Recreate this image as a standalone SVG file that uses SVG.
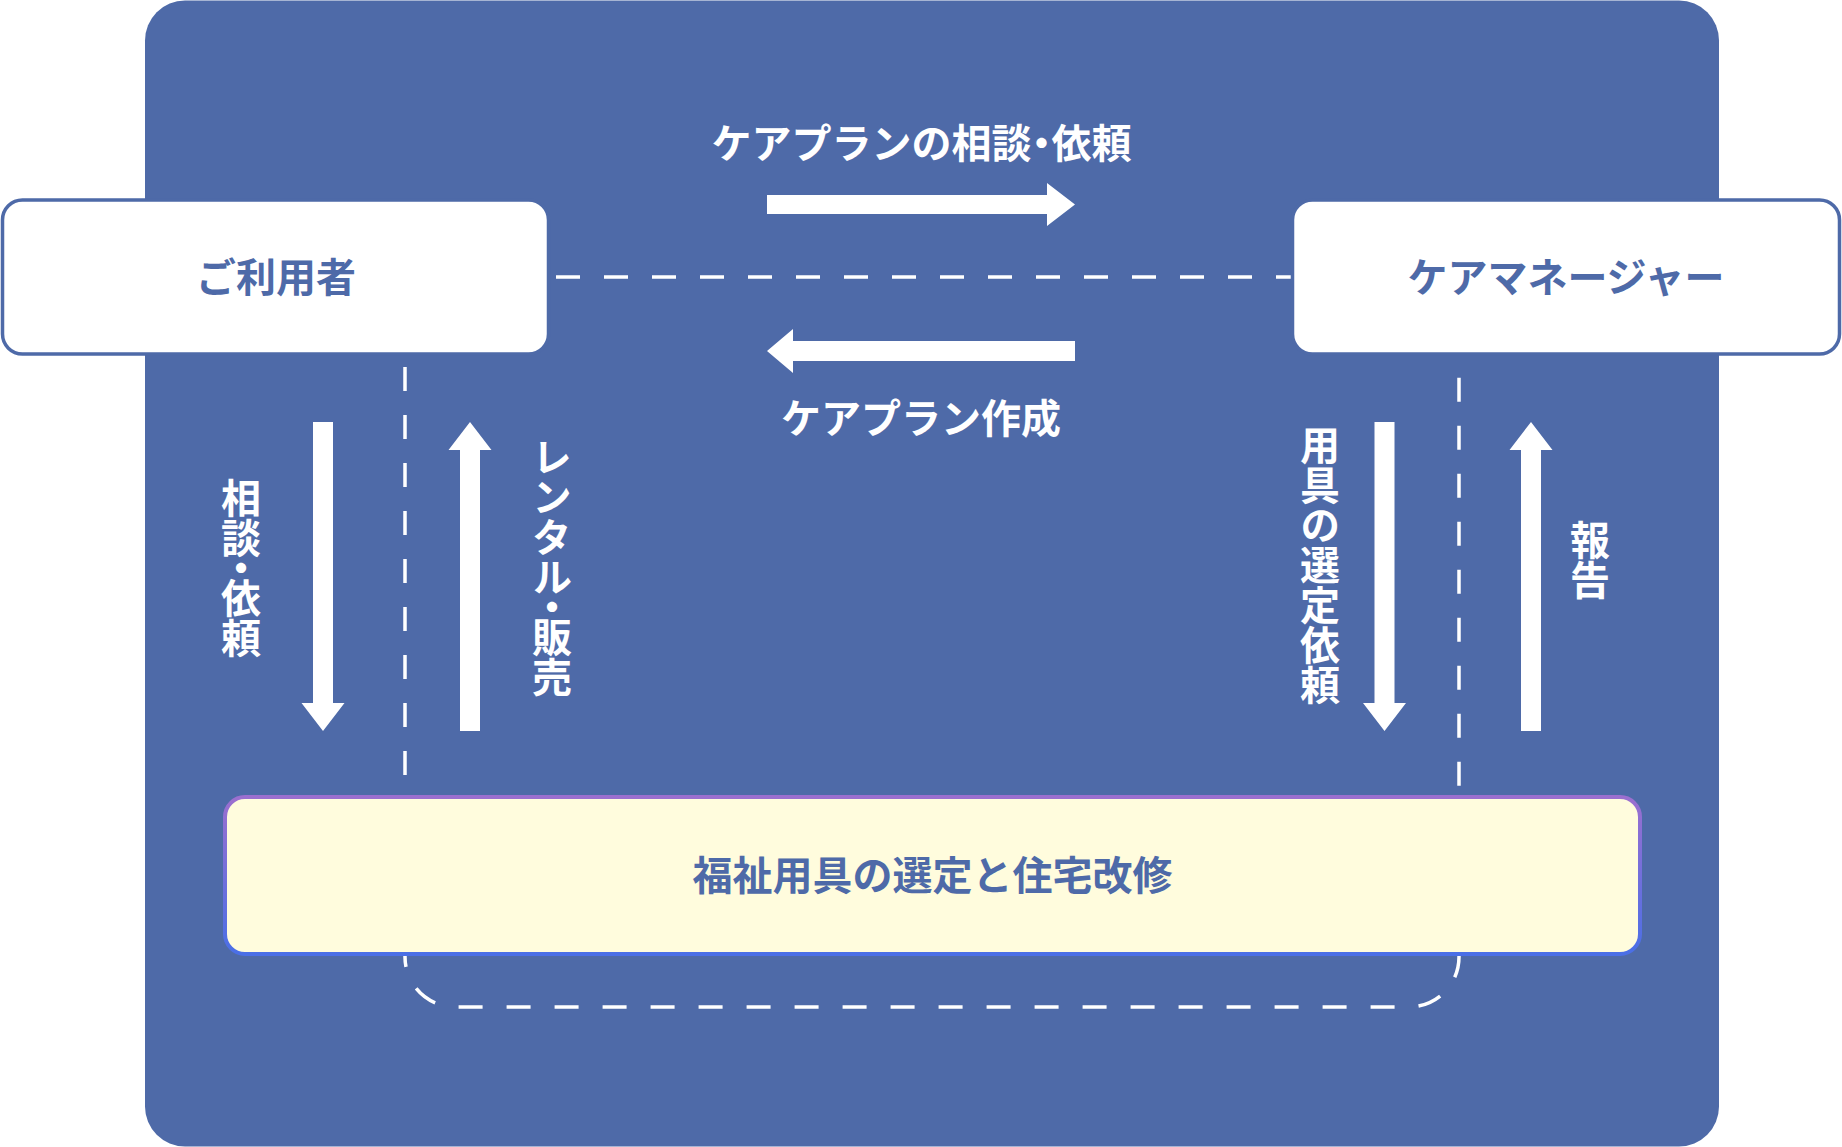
<svg xmlns="http://www.w3.org/2000/svg" width="1842" height="1147" viewBox="0 0 1842 1147">
  <style>
    .lbl { font-family: "Noto Sans CJK JP", "Noto Sans", sans-serif; font-weight: 700; font-size: 40px; }
    .white { fill: #ffffff; }
    .blue { fill: #4E6AA8; }
    .box { fill: #ffffff; stroke: #4E6AA8; stroke-width: 3.5; }
    .dash { fill: none; stroke: #ffffff; stroke-width: 3.5; stroke-dasharray: 24 24; }
    .arrow { fill: #ffffff; }
    .vert { writing-mode: vertical-rl; }
    .pdot { font-feature-settings: "palt" 1; }
    .vdot { font-feature-settings: "vpal" 1; }
  </style>
  <defs>
    <linearGradient id="yb" x1="0" y1="0" x2="0" y2="1">
      <stop offset="0" stop-color="#9B6FCF"/>
      <stop offset="1" stop-color="#4A6FE6"/>
    </linearGradient>
  </defs>

  <rect id="background" x="145" y="0.5" width="1574" height="1146" rx="40" fill="#4E6AA8"/>

  <g id="connectors">
    <line class="dash" x1="551" y1="277" x2="1292" y2="277" stroke-dashoffset="-5"/>
    <path class="dash" d="M405 277 V957 A50 50 0 0 0 455 1007 H1409 A50 50 0 0 0 1459 957 V277" stroke-dashoffset="6"/>

    <polygon class="arrow" points="767,195 1047,195 1047,183 1075,204.5 1047,226 1047,214 767,214"/>
    <polygon class="arrow" points="1075,341 793,341 793,329 767,351 793,373 793,361 1075,361"/>

    <polygon class="arrow" points="313,422 333,422 333,703 344.5,703 323,731 301.5,703 313,703"/>
    <polygon class="arrow" points="460,731 480,731 480,450 491.5,450 470,422 448.5,450 460,450"/>
    <polygon class="arrow" points="1374.5,422 1394.5,422 1394.5,703 1406,703 1384.5,731 1363,703 1374.5,703"/>
    <polygon class="arrow" points="1521,731 1541,731 1541,450 1552.5,450 1531,422 1509.5,450 1521,450"/>

    <text class="lbl white" x="921.5" y="141" text-anchor="middle" dominant-baseline="central">ケアプランの相談<tspan class="pdot">・</tspan>依頼</text>
    <text class="lbl white" x="921" y="416" text-anchor="middle" dominant-baseline="central">ケアプラン作成</text>

    <text class="lbl white vert" x="241" y="478">相談<tspan class="vdot">・</tspan>依頼</text>
    <text class="lbl white vert" x="552" y="437">レンタル<tspan class="vdot">・</tspan>販売</text>
    <text class="lbl white vert" x="1320" y="425">用具の選定依頼</text>
    <text class="lbl white vert" x="1590" y="520">報告</text>
  </g>

  <g id="node-user">
    <rect class="box" x="2.5" y="200" width="546" height="154" rx="20"/>
    <text class="lbl blue" x="276" y="275" text-anchor="middle" dominant-baseline="central">ご利用者</text>
  </g>

  <g id="node-caremanager">
    <rect class="box" x="1292.5" y="200" width="547" height="154" rx="20"/>
    <text class="lbl blue" x="1566" y="275" text-anchor="middle" dominant-baseline="central">ケアマネージャー</text>
  </g>

  <g id="node-welfare">
    <rect x="225" y="797" width="1415" height="157" rx="20" fill="#FFFCDD" stroke="url(#yb)" stroke-width="4"/>
    <text class="lbl blue" x="932.5" y="873" text-anchor="middle" dominant-baseline="central">福祉用具の選定と住宅改修</text>
  </g>
</svg>
